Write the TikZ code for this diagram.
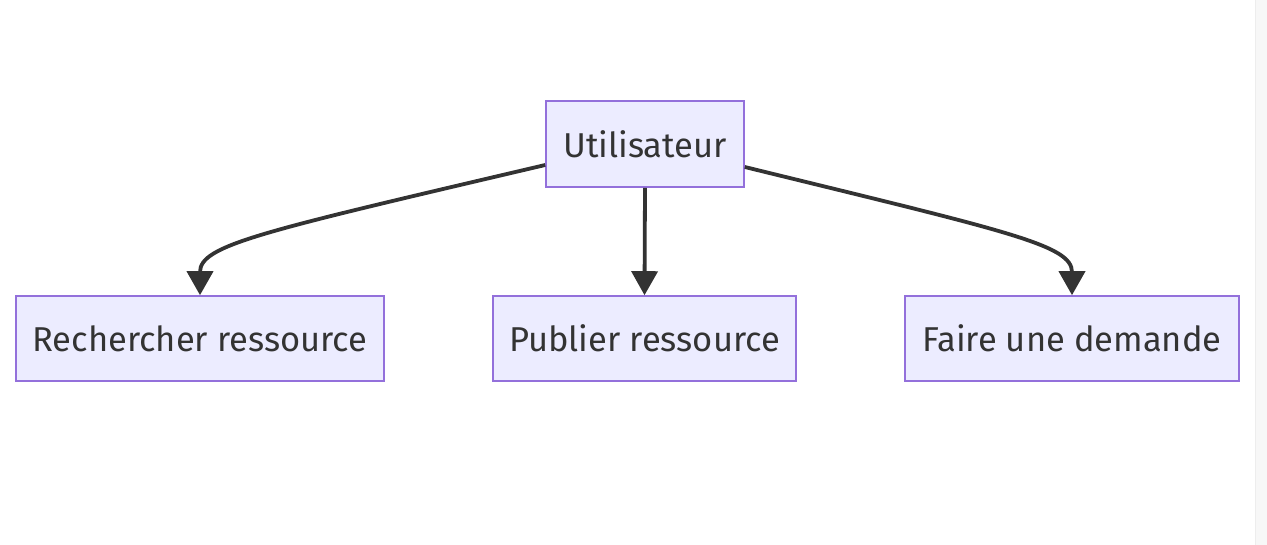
\documentclass[tikz,border=0pt]{standalone}
\usepackage{fontspec}
\setmainfont{Fira Sans}
\usetikzlibrary{arrows.meta,calc}
\definecolor{boxfill}{HTML}{ECECFF}
\definecolor{boxline}{HTML}{9370DB}
\definecolor{ink}{HTML}{333333}
\begin{document}
\begin{tikzpicture}[x=1pt,y=1pt,
  box/.style={draw=boxline,fill=boxfill,line width=1.6pt,text=ink,inner sep=0pt,
    font=\fontsize{34.5}{40}\selectfont},
  link/.style={draw=ink,line width=3.8pt,-{Triangle[length=24pt,width=26pt]}}]
\useasboundingbox (0,0) rectangle (1267,-545);
\fill[white] (0,0) rectangle (1267,-545);
\fill[black!3] (1255,0) rectangle (1267,-545);
\draw[black!7,line width=1pt] (1255,0) -- (1255,-545);
\node[box,minimum width=198pt,minimum height=86pt] (U) at (645,-144) {Utilisateur};
\node[box,minimum width=368pt,minimum height=85pt] (R) at (200,-338.5) {Rechercher ressource};
\node[box,minimum width=303pt,minimum height=85pt] (P) at (644.5,-338.5) {Publier ressource};
\node[box,minimum width=334pt,minimum height=85pt] (F) at (1072,-338.5) {Faire une demande};
\coordinate (ul) at ($(U.west)+(0,-21)$);
\coordinate (ur) at ($(U.east)+(0,-23)$);
\draw[link] (ul) .. controls (260,-232) and (200,-245) .. (R.north);
\draw[link] (U.south) -- (P.north);
\draw[link] (ur) .. controls (1010,-232) and (1072,-245) .. (F.north);
\end{tikzpicture}
\end{document}
